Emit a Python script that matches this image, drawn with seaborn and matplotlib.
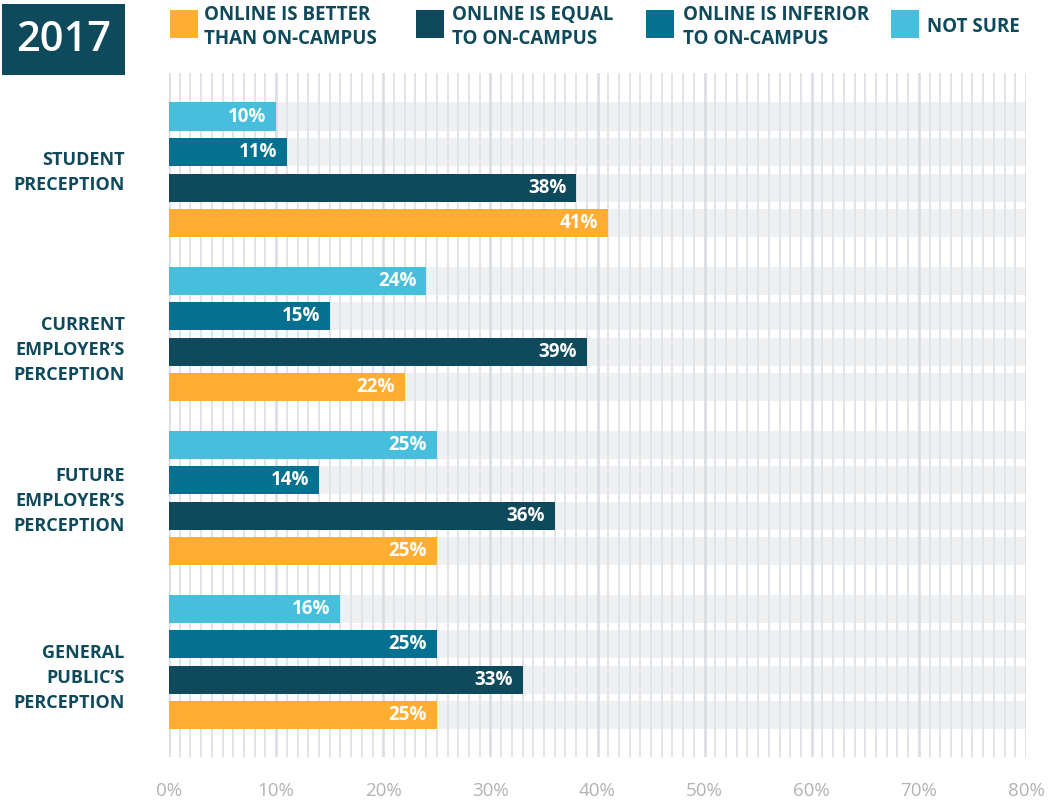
import matplotlib
matplotlib.use("Agg")
import matplotlib.pyplot as plt
from matplotlib.patches import Rectangle
from matplotlib.ticker import MultipleLocator, FuncFormatter
import pandas as pd
import seaborn as sns

# ---- data -------------------------------------------------------------
groups = [
    "STUDENT\nPRECEPTION",
    "CURRENT\nEMPLOYER\u2019S\nPERCEPTION",
    "FUTURE\nEMPLOYER\u2019S\nPERCEPTION",
    "GENERAL\nPUBLIC\u2019S\nPERCEPTION",
]
responses = ["Not sure", "Inferior", "Equal", "Better"]
not_sure = [10, 24, 25, 16]
inferior = [11, 15, 14, 25]
equal = [38, 39, 36, 33]
better = [41, 22, 25, 25]

legend_labels = [
    "ONLINE IS BETTER\nTHAN ON-CAMPUS",
    "ONLINE IS EQUAL\nTO ON-CAMPUS",
    "ONLINE IS INFERIOR\nTO ON-CAMPUS",
    "NOT SURE",
]
year_label = "2017"
x_max = 80

# ---- styling ----------------------------------------------------------
DARK = "#0f4a5c"
colors = {"Better": "#ffae33", "Equal": "#0f4a5c", "Inferior": "#03718f", "Not sure": "#47bedb"}
BAND = "#eff0f2"
FONT = ["Open Sans", "DejaVu Sans"]
label_drop_pt = [2.2, 11.5, 2.2, 11.5]   # downward nudge of the group labels

sns.set_theme(style="white")
plt.rcParams["font.family"] = FONT

values = {"Not sure": not_sure, "Inferior": inferior, "Equal": equal, "Better": better}
rows = []
for r in responses:
    for g, v in zip(groups, values[r]):
        rows.append({"group": g, "response": r, "value": v, "full": x_max})
df = pd.DataFrame(rows)

fig = plt.figure(figsize=(10.5, 8), dpi=100)
ax = fig.add_axes([169 / 1050, 1 - 757 / 800, (1026 - 169) / 1050, (757 - 73) / 800])

# light background bands behind every bar
sns.barplot(data=df, y="group", x="full", hue="response", hue_order=responses,
            order=groups, palette=[BAND] * 4, width=0.866, gap=0.21, saturation=1,
            orient="h", legend=False, ax=ax, zorder=0.2, linewidth=0)
n_bg = len(ax.containers)

# actual bars
sns.barplot(data=df, y="group", x="value", hue="response", hue_order=responses,
            order=groups, palette=colors, width=0.866, gap=0.21, saturation=1,
            orient="h", legend=False, ax=ax, zorder=2, linewidth=0)

for cont in ax.containers[n_bg:]:
    for p in cont.patches:
        v = p.get_width()
        ax.annotate(f"{v:.0f}%", xy=(v, p.get_y() + p.get_height() / 2),
                    xytext=(-7, 0), textcoords="offset points",
                    ha="right", va="center", color="white",
                    fontsize=13.5, fontweight="bold", zorder=3)

# axes
ax.set_xlim(0, x_max)
ax.set_ylim(3.58, -0.59)
ax.xaxis.set_major_locator(MultipleLocator(10))
ax.xaxis.set_minor_locator(MultipleLocator(1))
ax.xaxis.set_major_formatter(FuncFormatter(lambda v, _: f"{v:.0f}%"))
ax.set_axisbelow(True)
ax.grid(axis="x", which="minor", color="#e1e4e8", linewidth=1.4)
ax.grid(axis="x", which="major", color="#d9dce1", linewidth=1.9)
ax.grid(axis="y", visible=False)
ax.tick_params(axis="x", which="both", length=0, pad=18, labelsize=13.5, labelcolor="#b3b3b3")
ax.tick_params(axis="y", length=0, labelleft=False)
ax.set_xlabel("")
ax.set_ylabel("")
for s in ax.spines.values():
    s.set_visible(False)

# group labels, right-aligned left of the plot
for i, (g, dy) in enumerate(zip(groups, label_drop_pt)):
    ax.annotate(g, xy=(0, i), xycoords=("axes fraction", "data"),
                xytext=(-32, -dy), textcoords="offset points",
                ha="right", va="center", multialignment="right",
                fontsize=13, fontweight="bold", color=DARK, linespacing=1.5,
                annotation_clip=False)

# year badge
fig.add_artist(Rectangle((2 / 1050, 1 - 75 / 800), 123 / 1050, 71 / 800,
                         transform=fig.transFigure, color=DARK, lw=0))
fig.text(63.5 / 1050, 1 - 40 / 800, year_label, color="white", fontsize=30,
         fontweight="semibold", ha="center", va="center")

# legend
legend_colors = [colors["Better"], colors["Equal"], colors["Inferior"], colors["Not sure"]]
sq_left = [170, 416, 646, 891]
txt_left = [204, 452, 683, 927]
for lab, col, sx, tx in zip(legend_labels, legend_colors, sq_left, txt_left):
    fig.add_artist(Rectangle((sx / 1050, 1 - 38 / 800), 28 / 1050, 28 / 800,
                             transform=fig.transFigure, color=col, lw=0))
    fig.text(tx / 1050, 1 - 27 / 800, lab, color=DARK, fontsize=13.5,
             fontweight="bold", ha="left", va="center", linespacing=1.3)

fig.savefig("out.png", dpi=100)
